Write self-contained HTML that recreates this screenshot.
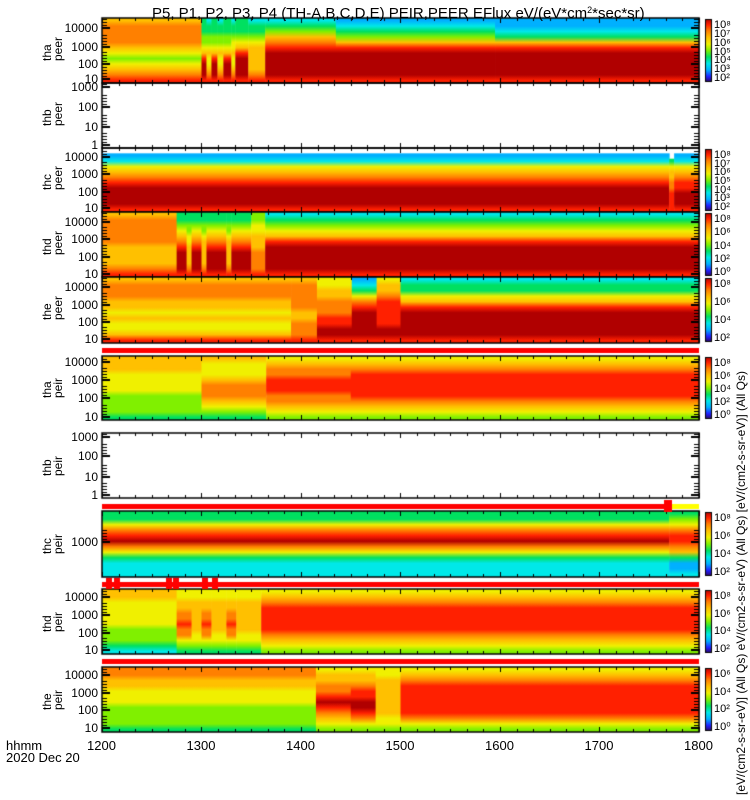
<!DOCTYPE html>
<html><head><meta charset="utf-8"><style>
body{margin:0;background:#fff;width:750px;height:800px;overflow:hidden;position:relative;font-family:"Liberation Sans",sans-serif;}
canvas{position:absolute;left:0;top:0}
.t{position:absolute;font-size:13px;color:#000;white-space:nowrap;line-height:13px}
.yl{position:absolute;font-size:12px;text-align:right;width:60px;line-height:12px}
.cb{position:absolute;font-size:11px;line-height:11px}
.rot{position:absolute;transform:rotate(-90deg);transform-origin:left top;font-size:12px;line-height:11px;white-space:nowrap}
</style></head><body>
<canvas id="c" width="750" height="800"></canvas>
<div class="t" style="left:152px;top:2px;font-size:15px;line-height:16px">P5, P1, P2, P3, P4 (TH-A,B,C,D,E) PEIR,PEER EFlux eV/(eV*cm<span style="font-size:9px;vertical-align:5px">2</span>*sec*sr)</div>
<div class="t" style="left:6px;top:739px">hhmm</div>
<div class="t" style="left:6px;top:751px">2020 Dec 20</div>
<div id="labels"></div>
<script>
// ---- data ----
const xTickLabels = ['1200','1300','1400','1500','1600','1700','1800'];
const xTickValues = [12,13,14,15,16,17,18];
const thaPeerTimes = [12.0,13.0,13.05,13.1,13.16,13.22,13.3,13.34,13.47,13.64,14.35,15.95];
const thaPeerProfiles = ['987656788887','9aaa97655444','987667655443','9aaa97655444','987667655443','9aaa97655444','987667665443','9aaaa9765444','987777765443','9aaaaa987543','9aaaaa975432','9aaaaa974322'];
const thcPeerTimes = [12.0,17.7,17.75];
const thcPeerProfiles = ['9aaaa987632.','9999887764..','9aaa9987632.'];
const thdPeerTimes = [12.0,12.75,12.85,12.9,13.0,13.05,13.25,13.3,13.5,13.64];
const thdPeerProfiles = ['987777888887','9aaaa9876544','987777665544','9aaaa9876544','987777765544','9aaaa9876544','987777765544','9aaaa9876544','988887776655','9aaaaa976543'];
const thePeerTimes = [12.0,13.9,14.16,14.51,14.76,15.0];
const thePeerProfiles = ['976676778887','988877888887','9aa998887766','9aaaaa986432','9aa999998776','9aaaaa976443'];
const thaPeirTimes = [12.0,13.0,13.65,14.5];
const thaPeirProfiles = ['455556666777','456788876667','567889998876','567899999876'];
const thcPeirTimes = [12.0,17.7];
const thcPeirProfiles = ['333468a98644','322478998654'];
const thdPeirTimes = [12.0,12.75,12.9,13.0,13.1,13.25,13.35,13.6];
const thdPeirProfiles = ['345556666677','456889887766','456677777766','456889887766','456677777766','456889887766','456677777766','567899999876'];
const thePeirTimes = [12.0,14.15,14.5,14.75,15.0];
const thePeirProfiles = ['455556667788','56789a988776','5689aa998776','566777777766','568999999876'];
// ---- layout ----
const X0=102,X1=699,T0=12,T1=18;
function xs(t){return X0+(t-T0)/(T1-T0)*(X1-X0);}
const colors=['#300040','#2020ff','#00b0ff','#00e8e8','#00e060','#80f000','#f0f000','#ffc000','#ff8000','#ff2000','#b00000'];
const panels=[
 {n:'tha',k:'peer',y0:18,y1:83,times:thaPeerTimes,prof:thaPeerProfiles,ticks:[[28,'10000'],[47,'1000'],[64,'100'],[79,'10']],cb:['10⁸','10⁷','10⁶','10⁵','10⁴','10³','10²']},
 {n:'thb',k:'peer',y0:83,y1:148,times:null,ticks:[[87,'1000'],[107,'100'],[127,'10'],[145,'1']]},
 {n:'thc',k:'peer',y0:148,y1:212,times:thcPeerTimes,prof:thcPeerProfiles,ticks:[[157,'10000'],[174,'1000'],[192,'100'],[208,'10']],cb:['10⁸','10⁷','10⁶','10⁵','10⁴','10³','10²']},
 {n:'thd',k:'peer',y0:212,y1:277,times:thdPeerTimes,prof:thdPeerProfiles,ticks:[[222,'10000'],[239,'1000'],[257,'100'],[274,'10']],cb:['10⁸','10⁶','10⁴','10²','10⁰']},
 {n:'the',k:'peer',y0:277,y1:343,times:thePeerTimes,prof:thePeerProfiles,ticks:[[287,'10000'],[305,'1000'],[322,'100'],[339,'10']],cb:['10⁸','10⁶','10⁴','10²']},
 {n:'tha',k:'peir',y0:356,y1:420,times:thaPeirTimes,prof:thaPeirProfiles,ticks:[[362,'10000'],[380,'1000'],[398,'100'],[417,'10']],cb:['10⁸','10⁶','10⁴','10²','10⁰']},
 {n:'thb',k:'peir',y0:433,y1:498,times:null,ticks:[[437,'1000'],[456,'100'],[477,'10'],[495,'1']]},
 {n:'thc',k:'peir',y0:511,y1:577,times:thcPeirTimes,prof:thcPeirProfiles,ticks:[[542,'1000']],cb:['10⁸','10⁶','10⁴','10²']},
 {n:'thd',k:'peir',y0:589,y1:654,times:thdPeirTimes,prof:thdPeirProfiles,ticks:[[597,'10000'],[615,'1000'],[633,'100'],[650,'10']],cb:['10⁸','10⁶','10⁴','10²']},
 {n:'the',k:'peir',y0:667,y1:732,times:thePeirTimes,prof:thePeirProfiles,ticks:[[675,'10000'],[693,'1000'],[710,'100'],[728,'10']],cb:['10⁶','10⁴','10²','10⁰']}
];
const ctx=document.getElementById('c').getContext('2d');
const L=document.getElementById('labels');
function lbl(cls,txt,x,y,name){const d=document.createElement('div');d.className=cls;d.textContent=txt;d.style.left=x+'px';d.style.top=y+'px';


L.appendChild(d);return d;}
panels.forEach(p=>{
 const h=p.y1-p.y0;
 if(p.times){
  p.times.forEach((t,i)=>{
   const tn=i+1<p.times.length?p.times[i+1]:T1;
   const pr=p.prof[i];const nb=pr.length;const bh=h/nb;
   // smooth vertical gradient through bin centres
   let top=p.y0;
   for(let b=nb-1;b>=0;b--){if(pr[b]==='.')top=p.y1-b*bh;else break;}
   const g=ctx.createLinearGradient(0,p.y1,0,p.y0);
   for(let b=0;b<nb;b++){const ch=pr[b];if(ch==='.')continue;
    g.addColorStop((b+0.5)/nb,colors[parseInt(ch,16)]);}
   ctx.fillStyle=g;
   ctx.fillRect(xs(t),top,xs(tn)-xs(t)+0.5,p.y1-top);
  });
  // colorbar
  const g=ctx.createLinearGradient(0,p.y0,0,p.y1);
  const cs=['#a00000','#ff2000','#ff8000','#ffc000','#f0f000','#80f000','#00e060','#00e8e8','#00b0ff','#2020ff','#300040'];
  cs.forEach((c,i)=>g.addColorStop(i/(cs.length-1),c));
  ctx.fillStyle=g;ctx.fillRect(705,p.y0+1,7,h-2);
  ctx.strokeStyle='#000';ctx.lineWidth=1;ctx.strokeRect(705.5,p.y0+1.5,6,h-3);
  p.cb.forEach((s,i)=>lbl('cb',s,714,p.y0+2+i*(h-12)/(p.cb.length-1),'colorbar-tick-'+p.n+'-'+p.k));
 }
 // frame
 ctx.strokeStyle='#000';ctx.lineWidth=1.5;
 ctx.strokeRect(X0,p.y0,X1-X0,h);
 ctx.lineWidth=1;
 for(let t=12;t<=18.001;t+=1/6){const x=Math.round(xs(t))+0.5;const len=(Math.abs(t-Math.round(t))<0.01)?5:3;
  ctx.beginPath();ctx.moveTo(x,p.y0);ctx.lineTo(x,p.y0+len);ctx.moveTo(x,p.y1);ctx.lineTo(x,p.y1-len);ctx.stroke();}
 p.ticks.forEach(([y,s])=>{ctx.fillStyle='#000';ctx.fillRect(X0,y-1,8,2);ctx.fillRect(X1-8,y-1,8,2);
  for(let k=1;k<5;k++){const yy=y-k*3;if(yy>p.y0){ctx.fillRect(X0,yy,5,1);ctx.fillRect(X1-5,yy,5,1);}}
  lbl('yl',s,38,y-6,'y-tick-'+p.n+'-'+p.k);});
 const r=lbl('rot',p.n,42,(p.y0+p.y1)/2+10,'y-axis-title-'+p.n+'-'+p.k);
 r.innerHTML=p.n+'<br>'+p.k;
});
function bar(y,x0,x1,c){ctx.fillStyle=c;ctx.fillRect(x0,y,x1-x0,5);}
bar(348,X0,X1,'#ff0000');
bar(504,X0,672,'#ff0000');bar(504,672,X1,'#ffff00');ctx.fillStyle='#ff0000';ctx.fillRect(664,500,8,12);
bar(582,X0,X1,'#ff0000');
[106,114,166,173,202,212].forEach(x=>{ctx.fillStyle='#ff0000';ctx.fillRect(x,578,6,11);});
bar(659,X0,X1,'#ff0000');
xTickValues.forEach((t,i)=>{lbl('t',xTickLabels[i],xs(t)-15,739,'x-tick-label');});
lbl('rot','[eV/(cm2-s-sr-eV)]  (All Qs)  eV/(cm2-s-sr-eV)  (All Qs)  [eV/(cm2-s-sr-eV)]  (All Qs)',736,795,'colorbar-unit-title');
</script>
</body></html>
